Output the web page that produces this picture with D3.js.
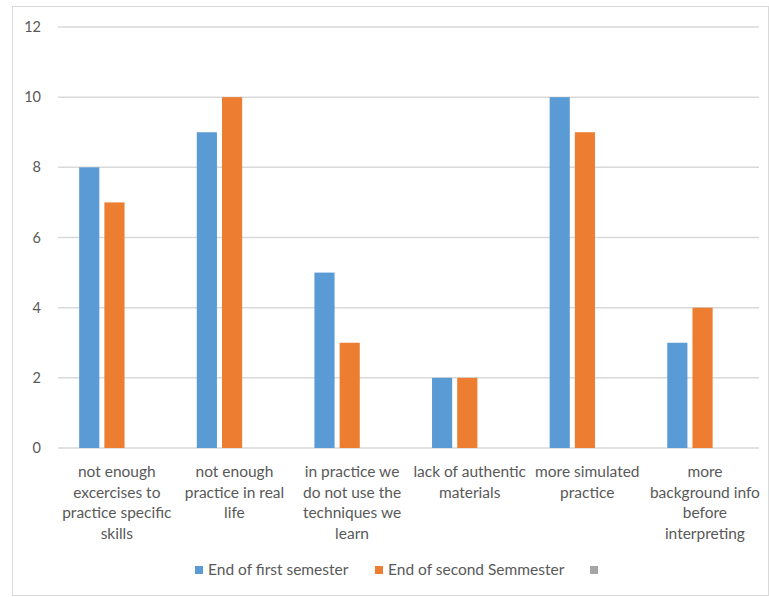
<!DOCTYPE html>
<html>
<head>
<meta charset="utf-8">
<script src="https://cdn.jsdelivr.net/npm/d3@7"></script>
<style>
  body { margin: 0; background: #fff; }
  text { font-family: Lato, "Open Sans", sans-serif; fill: #595959; }
  .grid line { stroke: #d9d9d9; stroke-width: 1.5; }
  .axis path, .axis line { display: none; }
</style>
</head>
<body>
<div id="chart"></div>
<script>
var categories = [
  'not enough\nexcercises to\npractice specific\nskills',
  'not enough\npractice in real\nlife',
  'in practice we\ndo not use the\ntechniques we\nlearn',
  'lack of authentic\nmaterials',
  'more simulated\npractice',
  'more\nbackground info\nbefore\ninterpreting'
];
var seriesNames = ['End of first semester', 'End of second Semmester', ''];
var firstSemester = [8, 9, 5, 2, 10, 3];
var secondSemester = [7, 10, 3, 2, 9, 4];
var yTicks = [0, 2, 4, 6, 8, 10, 12];

var W = 769, H = 597;
var margin = {top: 27, right: 10, bottom: 149, left: 58};
var width = 759 - margin.left,
    height = 448 - margin.top;

var svg = d3.select('#chart').append('svg')
    .attr('width', W)
    .attr('height', H);

// outer border
svg.append('rect')
    .attr('x', 12.5).attr('y', 6.5)
    .attr('width', 756).attr('height', 589)
    .attr('fill', 'none')
    .attr('stroke', '#d9d9d9');

var g = svg.append('g')
    .attr('transform', 'translate(' + margin.left + ',' + margin.top + ')');

var x0 = d3.scaleBand()
    .domain(d3.range(categories.length))
    .range([0, width])
    .paddingInner(0.4)
    .paddingOuter(0.18);

var x1 = d3.scaleBand()
    .domain([0, 1, 2])
    .range([0, x0.bandwidth()])
    .paddingInner(0.2);

var y = d3.scaleLinear()
    .domain([0, 12])
    .range([height, 0]);

var color = d3.scaleOrdinal()
    .domain([0, 1, 2])
    .range(['#5b9bd5', '#ed7d31', '#a5a5a5']);

// gridlines
g.append('g')
    .attr('class', 'grid')
    .selectAll('line')
    .data(yTicks)
    .enter().append('line')
    .attr('x1', 0).attr('x2', width)
    .attr('y1', function(d) { return y(d); })
    .attr('y2', function(d) { return y(d); });

// y axis labels
var yAxis = g.append('g')
    .attr('class', 'axis')
    .attr('transform', 'translate(-13,0)')
    .call(d3.axisLeft(y).tickValues(yTicks).tickSize(0).tickPadding(4));
yAxis.selectAll('text')
    .style('font-size', '14.5px')
    .style('fill', '#595959');

// bars
var rows = categories.map(function(c, i) {
  return [firstSemester[i], secondSemester[i]];
});

var groups = g.selectAll('.cat')
    .data(rows)
    .enter().append('g')
    .attr('class', 'cat')
    .attr('transform', function(d, i) { return 'translate(' + x0(i) + ',0)'; });

groups.selectAll('rect')
    .data(function(d) { return d; })
    .enter().append('rect')
    .attr('x', function(d, j) { return x1(j); })
    .attr('y', function(d) { return y(d); })
    .attr('width', x1.bandwidth())
    .attr('height', function(d) { return y(0) - y(d); })
    .attr('fill', function(d, j) { return color(j); });

// category labels
var labels = g.selectAll('.catlabel')
    .data(categories)
    .enter().append('text')
    .attr('class', 'catlabel')
    .attr('text-anchor', 'middle')
    .style('font-size', '15.5px')
    .attr('transform', function(d, i) {
      return 'translate(' + (x0(i) - x0.step() * 0.18 + x0.step() / 2) + ',' + (height + 29) + ')';
    });

labels.selectAll('tspan')
    .data(function(d) { return d.split('\n'); })
    .enter().append('tspan')
    .attr('x', 0)
    .attr('dy', function(d, i) { return i === 0 ? 0 : 20.5; })
    .text(function(d) { return d; });

// legend
var legendX = [195, 375, 590];
var legend = svg.selectAll('.legend')
    .data(seriesNames)
    .enter().append('g')
    .attr('class', 'legend')
    .attr('transform', function(d, i) { return 'translate(' + legendX[i] + ',570)'; });

legend.append('rect')
    .attr('x', 0).attr('y', -4)
    .attr('width', 8).attr('height', 8)
    .attr('fill', function(d, i) { return color(i); });

legend.append('text')
    .attr('x', 13)
    .attr('dy', '0.35em')
    .style('font-size', '15.5px')
    .text(function(d) { return d; });
</script>
</body>
</html>
